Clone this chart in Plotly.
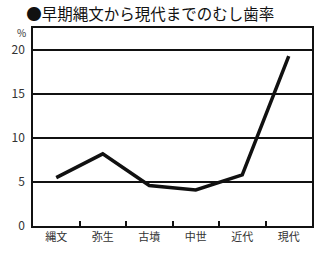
import plotly.graph_objects as go

periods = ["縄文", "弥生", "古墳", "中世", "近代", "現代"]
caries_rate = [5.5, 8.2, 4.6, 4.1, 5.8, 19.3]
y_ticks = [0, 5, 10, 15, 20]

fig = go.Figure()
fig.add_trace(go.Scatter(
    x=periods, y=caries_rate, mode="lines",
    line=dict(color="#111111", width=3.5),
    showlegend=False, hoverinfo="skip",
))

fig.update_layout(
    width=327, height=256,
    margin=dict(l=27, r=15, t=28, b=30),
    paper_bgcolor="white", plot_bgcolor="white",
    font=dict(family="Noto Sans CJK JP, sans-serif", color="#333333", size=11),
    title=dict(
        text="●早期縄文から現代までのむし歯率",
        x=0.08, xanchor="left", y=0.945, yanchor="middle",
        font=dict(size=15.5, color="#111111", family="Noto Sans CJK JP, sans-serif"),
    ),
    xaxis=dict(
        type="category", range=[-0.5, 5.5],
        showline=True, linecolor="#111111", linewidth=1.5, mirror=True,
        showgrid=False, ticks="inside", tickson="boundaries",
        ticklen=5, tickcolor="#111111", tickwidth=1.5,
        tickfont=dict(size=11, color="#333333"),
    ),
    yaxis=dict(
        range=[0, 22.5], tickvals=y_ticks,
        showline=True, linecolor="#111111", linewidth=1.5, mirror=True,
        showgrid=True, gridcolor="#111111", gridwidth=1.5,
        zeroline=False, ticks="", ticklabelstandoff=4,
        tickfont=dict(size=12, color="#333333"),
    ),
)
fig.add_annotation(
    text="%", xref="paper", yref="paper", x=0, y=1.0,
    xanchor="right", yanchor="top", xshift=-5, yshift=5, showarrow=False,
    font=dict(size=10, color="#333333"),
)

fig.write_html("out.html")
